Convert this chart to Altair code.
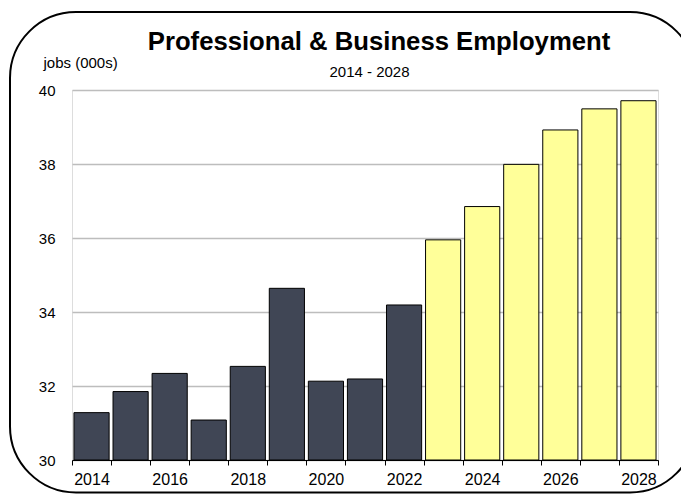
import altair as alt
import pandas as pd

years = list(range(2014, 2029))
jobs = [31.28, 31.85, 32.34, 31.08, 32.53, 34.64, 32.13, 32.19, 34.19,
        35.95, 36.85, 37.99, 38.92, 39.49, 39.71]
kinds = ["Actual"] * 9 + ["Projected"] * 6

kind_domain = ["Actual", "Projected"]
kind_colors = ["#404655", "#FFFF99"]

y_ticks = [30, 32, 34, 36, 38, 40]
x_tick_values = [y - 0.5 for y in years] + [years[-1] + 0.5]

title_text = "Professional & Business Employment"
subtitle_text = "2014 - 2028"
y_title = "jobs (000s)"

df = pd.DataFrame({"year": years, "jobs": jobs, "kind": kinds})

FONT = "Liberation Sans, Arial, Helvetica, sans-serif"
W, H = 586, 370

x_scale = alt.Scale(domain=[years[0] - 0.5, years[-1] + 0.5], nice=False, zero=False)
y_scale = alt.Scale(domain=[30, 40], nice=False, zero=False)

bars = alt.Chart(df).transform_calculate(
    x0="datum.year - 0.45", x1="datum.year + 0.45"
).mark_bar(stroke="black", strokeWidth=1).encode(
    x=alt.X("x0:Q", scale=x_scale, axis=alt.Axis(
        values=x_tick_values, title=None, grid=False,
        domain=True, domainColor="black", domainWidth=1,
        ticks=True, tickColor="black", tickSize=5, tickWidth=1,
        labelExpr="(datum.value + 0.5) % 2 == 0 ? format(datum.value + 0.5, 'd') : ''",
        labelOffset=19.5, labelFlush=False, labelOverlap=False, labelBound=False,
        labelPadding=6, labelFontSize=16, labelColor="black", labelFont=FONT)),
    x2="x1:Q",
    y=alt.Y("jobs:Q", scale=y_scale, axis=alt.Axis(
        values=y_ticks, title=y_title, grid=True, gridColor="#bdbdbd", gridWidth=1.5,
        domain=False, ticks=False, labelPadding=17, labelFontSize=15,
        labelColor="black", labelFont=FONT,
        titleAngle=0, titleAlign="left", titleBaseline="alphabetic",
        titleX=-29, titleY=-23, titleFontSize=15, titleFontWeight="normal",
        titleColor="black", titleFont=FONT)),
    y2=alt.datum(30),
    color=alt.Color("kind:N", scale=alt.Scale(domain=kind_domain, range=kind_colors), legend=None),
)

titles = pd.DataFrame({"t": [title_text]})
subs = pd.DataFrame({"t": [subtitle_text]})

title = alt.Chart(titles).mark_text(
    fontSize=25.7, fontWeight="bold", font=FONT, color="black",
    align="center", baseline="alphabetic"
).encode(text="t:N", x=alt.value(307), y=alt.value(-40))

subtitle = alt.Chart(subs).mark_text(
    fontSize=15, font=FONT, color="black", align="center", baseline="alphabetic"
).encode(text="t:N", x=alt.value(297.5), y=alt.value(-13))

border = alt.Chart(subs).mark_rect(
    filled=False, stroke="black", strokeWidth=2, cornerRadius=66
).encode(x=alt.value(-62), x2=alt.value(624), y=alt.value(-78), y2=alt.value(402.5))

chart = alt.layer(bars, title, subtitle, border).properties(
    width=W, height=H,
    autosize=alt.AutoSizeParams(type="none"),
    padding={"left": 64, "top": 82, "right": 23, "bottom": 34},
).configure_view(stroke=None).configure(font=FONT)

chart.save("out.html", embed_options={"renderer": "svg", "actions": False})
